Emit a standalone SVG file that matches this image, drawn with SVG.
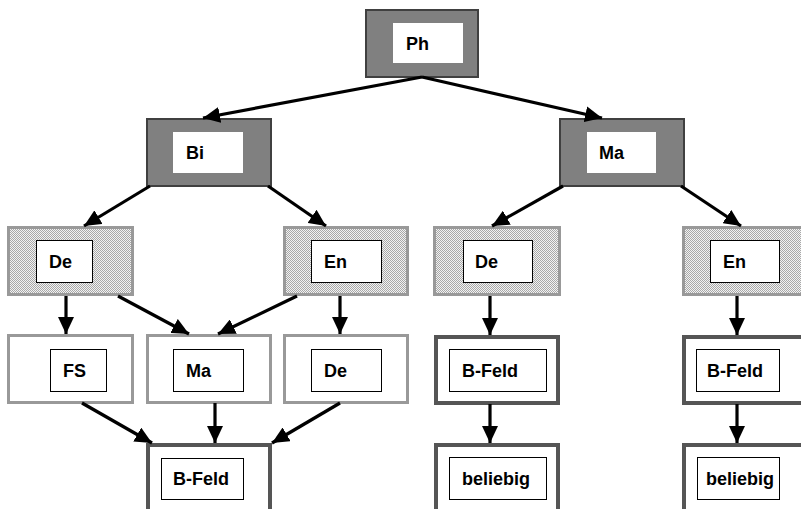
<svg xmlns="http://www.w3.org/2000/svg" width="801" height="509" viewBox="0 0 801 509">
<defs>
<pattern id="dots" width="2" height="2" patternUnits="userSpaceOnUse">
<rect width="2" height="2" fill="#f2f2f2"/>
<rect width="1" height="1" fill="#a8a8a8"/>
<rect x="1" y="1" width="1" height="1" fill="#a8a8a8"/>
</pattern>
<marker id="ah" markerUnits="userSpaceOnUse" markerWidth="18" markerHeight="16" refX="17" refY="8" orient="auto">
<path d="M0,0 L17,8 L0,16 z" fill="#000"/>
</marker>
</defs>
<style>
.top{fill:#808080;stroke:#404040;stroke-width:2}
.pat{fill:url(#dots);stroke:#999;stroke-width:3}
.lt{fill:#fff;stroke:#999;stroke-width:3}
.dk{fill:#fff;stroke:#555;stroke-width:4}
.inw{fill:#fff;stroke:none}
.inb{fill:#fff;stroke:#000;stroke-width:1}
text{font-family:"Liberation Sans",Arial,sans-serif;font-weight:bold;font-size:18px;fill:#000}
.cn line{stroke:#000;stroke-width:3.2;marker-end:url(#ah)}
</style>
<g id="Ph"><rect class="top" x="366" y="10" width="112" height="67"/><rect class="inw" x="393" y="23" width="70" height="40"/><text x="406" y="50">Ph</text></g>
<g id="Bi"><rect class="top" x="147" y="119" width="124" height="67"/><rect class="inw" x="173" y="132" width="70" height="41"/><text x="186" y="159">Bi</text></g>
<g id="Ma"><rect class="top" x="560" y="119" width="124" height="67"/><rect class="inw" x="587" y="132" width="69" height="41"/><text x="599" y="159">Ma</text></g>
<g id="De1"><rect class="pat" x="8.5" y="227.5" width="124" height="67"/><rect class="inb" x="36.5" y="240.5" width="56" height="42"/><text x="49" y="268">De</text></g>
<g id="En2"><rect class="pat" x="284.5" y="227.5" width="123" height="67"/><rect class="inb" x="311.5" y="240.5" width="70" height="42"/><text x="324" y="268">En</text></g>
<g id="De3"><rect class="pat" x="434.5" y="227.5" width="125" height="67"/><rect class="inb" x="463.5" y="240.5" width="69" height="42"/><text x="475" y="268">De</text></g>
<g id="En4"><rect class="pat" x="683.5" y="227.5" width="130" height="67"/><rect class="inb" x="710.5" y="240.5" width="69" height="42"/><text x="723" y="268">En</text></g>
<g id="FS"><rect class="lt" x="8.5" y="335.5" width="124" height="67"/><rect class="inb" x="50.5" y="349.5" width="56" height="42"/><text x="63" y="377">FS</text></g>
<g id="Ma4"><rect class="lt" x="147.5" y="335.5" width="123" height="67"/><rect class="inb" x="173.5" y="349.5" width="70" height="42"/><text x="186" y="377">Ma</text></g>
<g id="De4"><rect class="lt" x="284.5" y="335.5" width="123" height="67"/><rect class="inb" x="311.5" y="349.5" width="70" height="42"/><text x="324" y="377">De</text></g>
<g id="BF3"><rect class="dk" x="436" y="337" width="122" height="66"/><rect class="inb" x="449.5" y="349.5" width="97" height="42"/><text x="462" y="377">B-Feld</text></g>
<g id="BF4"><rect class="dk" x="684" y="337" width="130" height="66"/><rect class="inb" x="696.5" y="349.5" width="83" height="42"/><text x="707" y="377">B-Feld</text></g>
<g id="BF5"><rect class="dk" x="148" y="445" width="122" height="80"/><rect class="inb" x="161.5" y="458.5" width="82" height="41"/><text x="173" y="485">B-Feld</text></g>
<g id="bel3"><rect class="dk" x="436" y="445" width="122" height="80"/><rect class="inb" x="449.5" y="457.5" width="97" height="42"/><text x="462" y="485">beliebig</text></g>
<g id="bel4"><rect class="dk" x="684" y="445" width="130" height="80"/><rect class="inb" x="697.5" y="457.5" width="82" height="42"/><text x="706" y="485">beliebig</text></g>
<g id="connectors" class="cn">
<line x1="422" y1="77" x2="203" y2="118"/>
<line x1="422" y1="77" x2="602" y2="118"/>
<line x1="150" y1="186" x2="84" y2="226"/>
<line x1="268" y1="186" x2="326" y2="226"/>
<line x1="563" y1="186" x2="492" y2="226"/>
<line x1="681" y1="186" x2="741" y2="226"/>
<line x1="66" y1="296" x2="66" y2="334"/>
<line x1="118" y1="296" x2="189" y2="334"/>
<line x1="297" y1="296" x2="218" y2="334"/>
<line x1="340" y1="296" x2="340" y2="334"/>
<line x1="490" y1="296" x2="490" y2="335"/>
<line x1="737" y1="296" x2="737" y2="335"/>
<line x1="82" y1="403" x2="152" y2="443"/>
<line x1="215" y1="403" x2="215" y2="443"/>
<line x1="340" y1="403" x2="272" y2="443"/>
<line x1="490" y1="404" x2="490" y2="443"/>
<line x1="737" y1="404" x2="737" y2="443"/>
</g>
</svg>
